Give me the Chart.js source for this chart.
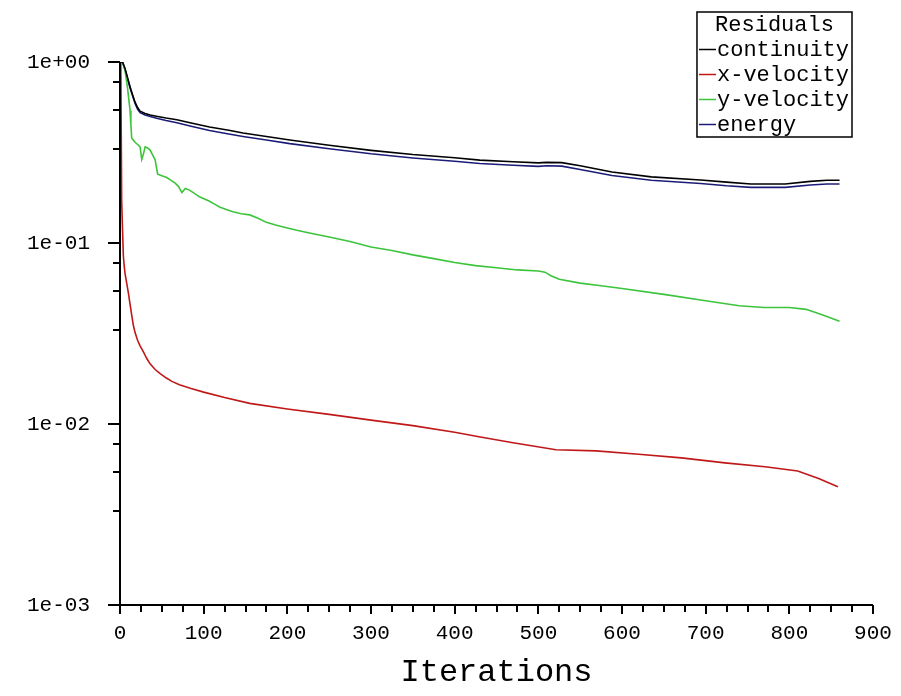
<!DOCTYPE html>
<html><head><meta charset="utf-8">
<script src="https://cdn.jsdelivr.net/npm/chart.js@4/dist/chart.umd.min.js"></script>
<style>html,body{margin:0;padding:0;background:#fff}canvas{display:block}</style>
</head><body>
<canvas id="c" width="901" height="696"></canvas>
<script>
// ---- data ----
const seriesNames = ['continuity', 'x-velocity', 'y-velocity', 'energy'];
const legendTitle = 'Residuals';
const xAxisTitle = 'Iterations';
const xTickValues = [0, 100, 200, 300, 400, 500, 600, 700, 800, 900];
const yTickLabels = ['1e+00', '1e-01', '1e-02', '1e-03'];
const yMajorValues = [1, 0.1, 0.01, 0.001];

const contIter = [0,3,6,9,12,15,18,21,24,30,36,45,55,68,85,107,130,147,175,203,250,300,350,400,430,470,500,510,528,550,588,635,694,725,754,795,825,845,860];
const contVal  = [1.0,1.0,0.92,0.82,0.73,0.66,0.60,0.56,0.535,0.52,0.51,0.50,0.49,0.48,0.46,0.437,0.42,0.405,0.388,0.371,0.347,0.325,0.308,0.296,0.287,0.281,0.277,0.279,0.278,0.267,0.247,0.232,0.223,0.217,0.212,0.212,0.219,0.222,0.222];

const energyIter = [0,3,6,9,12,15,18,21,24,30,36,45,55,68,85,107,130,147,175,203,250,300,350,400,430,470,500,510,528,550,588,635,694,725,754,795,825,845,860];
const energyVal  = [1.0,1.0,0.91,0.81,0.72,0.65,0.59,0.55,0.525,0.51,0.50,0.487,0.475,0.462,0.442,0.418,0.40,0.388,0.371,0.354,0.332,0.311,0.295,0.283,0.275,0.269,0.265,0.267,0.266,0.255,0.236,0.222,0.213,0.207,0.203,0.203,0.209,0.212,0.212];

const xvelIter = [0,1,2,3,4,5,6,8,10,12,14,16,18,21,24,28,32,36,42,48,55,62,71,85,100,125,155,200,250,300,350,400,429,468,521,569,620,671,723,771,810,835,858];
const xvelVal  = [1.0,0.95,0.17,0.12,0.085,0.075,0.068,0.06,0.053,0.046,0.040,0.035,0.032,0.029,0.027,0.025,0.023,0.0215,0.0200,0.0190,0.0180,0.0172,0.0165,0.0157,0.0150,0.0140,0.0130,0.0121,0.0113,0.0105,0.0098,0.0090,0.0085,0.0079,0.0072,0.0071,0.0068,0.0065,0.0061,0.0058,0.0055,0.0050,0.0045];

const yvelIter = [0,3,6,9,12,13,14,16,18,21,24,26,28,30,33,36,40,42,45,50,56,61,66,70,74,78,83,89,95,101,107,113,119,127,135,145,155,165,175,185,194,210,225,250,275,300,325,350,375,400,425,450,475,500,508,515,525,550,575,600,650,700,740,770,800,820,840,860];
const yvelVal  = [1.0,1.0,0.9,0.72,0.54,0.45,0.38,0.37,0.36,0.35,0.34,0.29,0.31,0.34,0.335,0.326,0.30,0.288,0.24,0.235,0.23,0.222,0.214,0.205,0.19,0.2,0.196,0.188,0.18,0.175,0.17,0.164,0.158,0.153,0.149,0.145,0.143,0.137,0.13,0.126,0.123,0.118,0.114,0.108,0.102,0.095,0.091,0.086,0.082,0.078,0.075,0.073,0.071,0.070,0.069,0.066,0.063,0.060,0.058,0.056,0.052,0.048,0.045,0.044,0.044,0.043,0.040,0.037];

const seriesColors = ['#000000', '#c01818', '#3cc43c', '#1c1c78'];

// ---- chart ----
const FONT = '"Liberation Mono", "DejaVu Sans Mono", monospace';
const toPts = (xs, ys) => xs.map((x, i) => ({x: x, y: ys[i]}));
const minorFactors = [0.78, 0.54, 0.33];

const axesPlugin = {
  id: 'axesPlugin',
  afterDraw(chart) {
    const ctx = chart.ctx, a = chart.chartArea;
    const xs = chart.scales.x, ys = chart.scales.y;
    ctx.save();
    ctx.strokeStyle = '#000';
    ctx.lineWidth = 2;
    ctx.beginPath();
    ctx.moveTo(a.left, a.top); ctx.lineTo(a.left, a.bottom + 8);
    ctx.moveTo(a.left - 12, a.bottom); ctx.lineTo(a.right, a.bottom);
    yMajorValues.forEach(v => {
      const py = Math.round(ys.getPixelForValue(v));
      ctx.moveTo(a.left - 12, py); ctx.lineTo(a.left, py);
    });
    [1, 0.1, 0.01].forEach(d => minorFactors.forEach(f => {
      const py = Math.round(ys.getPixelForValue(d * f));
      ctx.moveTo(a.left - 7, py); ctx.lineTo(a.left, py);
    }));
    for (let v = 0; v <= 900; v += 25) {
      const px = Math.round(xs.getPixelForValue(v));
      ctx.moveTo(px, a.bottom); ctx.lineTo(px, a.bottom + (v % 100 === 0 ? 9 : 7));
    }
    ctx.stroke();

    // legend box
    const right = 852, top = 12, rowH = 25;
    ctx.font = '22px ' + FONT;
    const textW = Math.max(...seriesNames.map(n => ctx.measureText(n).width));
    const textX = right - 3 - textW;
    const lineLen = 16;
    const left = textX - lineLen - 4;
    const bottom = top + rowH * 5;
    ctx.lineWidth = 1.5;
    ctx.strokeRect(left, top, right - left, bottom - top);
    ctx.fillStyle = '#000';
    ctx.textBaseline = 'middle';
    ctx.textAlign = 'center';
    ctx.fillText(legendTitle, (left + right) / 2, top + rowH / 2 + 1);
    ctx.textAlign = 'left';
    seriesNames.forEach((n, i) => {
      const cy = top + rowH * (i + 1) + rowH / 2;
      ctx.strokeStyle = seriesColors[i];
      ctx.beginPath();
      ctx.moveTo(left + 2, cy); ctx.lineTo(textX - 1, cy);
      ctx.stroke();
      ctx.fillStyle = '#000';
      ctx.fillText(n, textX, cy + 1);
    });
    ctx.restore();
  }
};

new Chart(document.getElementById('c'), {
  type: 'line',
  data: {
    datasets: [
      {label: seriesNames[0], data: toPts(contIter, contVal), borderColor: seriesColors[0]},
      {label: seriesNames[1], data: toPts(xvelIter, xvelVal), borderColor: seriesColors[1]},
      {label: seriesNames[2], data: toPts(yvelIter, yvelVal), borderColor: seriesColors[2]},
      {label: seriesNames[3], data: toPts(energyIter, energyVal), borderColor: seriesColors[3]}
    ]
  },
  options: {
    responsive: false,
    animation: false,
    devicePixelRatio: 1,
    layout: {padding: {top: 62, right: 28, left: 0, bottom: 0}},
    elements: {point: {radius: 0}, line: {borderWidth: 1.6, tension: 0}},
    plugins: {legend: {display: false}, tooltip: {enabled: false}},
    scales: {
      x: {
        type: 'linear', min: 0, max: 900,
        grid: {display: false}, border: {display: false},
        afterBuildTicks: s => { s.ticks = xTickValues.map(v => ({value: v})); },
        afterFit: s => { s.height = 91; s.paddingLeft = 0; s.paddingRight = 0; },
        ticks: {color: '#000', font: {family: FONT, size: 21}, padding: 8, maxRotation: 0, autoSkip: false},
        title: {display: true, text: xAxisTitle, color: '#000', font: {family: FONT, size: 32}, padding: {top: 10}}
      },
      y: {
        type: 'logarithmic', min: 0.001, max: 1,
        grid: {display: false}, border: {display: false},
        afterBuildTicks: s => { s.ticks = yMajorValues.map(v => ({value: v})); },
        afterFit: s => { s.width = 120; },
        ticks: {
          color: '#000', font: {family: FONT, size: 21}, padding: 22, autoSkip: false,
          callback: (v) => { const i = yMajorValues.findIndex(m => Math.abs(m - v) / m < 1e-6); return i >= 0 ? yTickLabels[i] : ''; }
        }
      }
    }
  },
  plugins: [axesPlugin]
});
</script>
</body></html>
